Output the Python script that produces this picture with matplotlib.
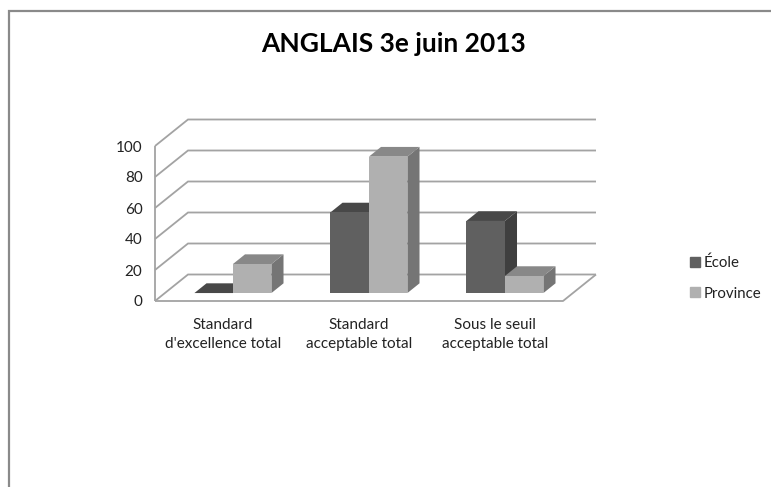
#!/usr/bin/env python3
"""Recreate the ANGLAIS 3e juin 2013 pseudo-3D bar chart."""

import matplotlib
matplotlib.use('Agg')
import matplotlib.pyplot as plt
from matplotlib.lines import Line2D
from matplotlib.patches import Patch

categories = ["Standard\nd'excellence total", "Standard\nacceptable total",
              "Sous le seuil\nacceptable total"]
ecole = [0, 52, 46.5]
province = [18.7, 88, 11]
y_ticks = [0, 20, 40, 60, 80, 100]

WIDTH, HEIGHT = 771, 487
GRID = '#a3a3a3'

plt.rcParams['font.family'] = ['Lato', 'DejaVu Sans']
plt.rcParams['lines.solid_capstyle'] = 'butt'

fig = plt.figure(figsize=(WIDTH / 100, HEIGHT / 100), dpi=100)
# axes = front plane of the chart box, in pixels of the picture
ax = fig.add_axes([155 / WIDTH, 1 - 301 / HEIGHT, 408 / WIDTH, 155 / HEIGHT])
ax.set_xlim(-0.5, 2.5)
ax.set_ylim(0, 100)
ax.patch.set_visible(False)
for spine in ax.spines.values():
    spine.set_visible(False)

# oblique depth of the box, in data units
depth_x = 33 / 136
depth_y = 26.5 / 1.55
bar_w = 38.5 / 136
bar_front = 0.3
bar_back = 0.667


def wall_line(v):
    ax.plot([-0.5, -0.5 + depth_x, 2.5 + depth_x], [v, v + depth_y, v + depth_y],
            color=GRID, lw=1.3, clip_on=False, zorder=1, solid_joinstyle='miter')


def bar3d(left, value, front, top, side):
    x0 = left + bar_front * depth_x
    x1 = x0 + bar_w
    y0 = bar_front * depth_y
    y1 = y0 + value
    dx = (bar_back - bar_front) * depth_x
    dy = (bar_back - bar_front) * depth_y
    ax.fill([x1, x1 + dx, x1 + dx, x1], [y0, y0 + dy, y1 + dy, y1],
            color=side, lw=0, clip_on=False, zorder=3)
    ax.fill([x0, x1, x1 + dx, x0 + dx], [y1, y1, y1 + dy, y1 + dy],
            color=top, lw=0, clip_on=False, zorder=3)
    ax.fill([x0, x1, x1, x0], [y0, y0, y1, y1],
            color=front, lw=0, clip_on=False, zorder=3)


for v in y_ticks:
    wall_line(v)
# floor and left edge
ax.plot([-0.5, -0.5], [100, 0], color=GRID, lw=1.3, clip_on=False, zorder=2)
ax.plot([-0.5, 2.5, 2.5 + depth_x], [0, 0, depth_y], color=GRID, lw=1.3,
        clip_on=False, zorder=2)

for i in range(len(categories)):
    bar3d(i - bar_w, ecole[i], '#606060', '#484848', '#3f3f3f')
    bar3d(i, province[i], '#b0b0b0', '#888888', '#757575')

ax.set_xticks(range(len(categories)))
ax.set_xticklabels(categories, fontsize=11, color='#222222', linespacing=1.5)
ax.set_yticks(y_ticks)
ax.tick_params(axis='y', length=0, pad=9, labelsize=11, labelcolor='#222222')
ax.tick_params(axis='x', length=0, pad=12)

fig.text(394 / WIDTH, 1 - 44 / HEIGHT, 'ANGLAIS 3e juin 2013', ha='center', va='center',
         fontsize=19, fontweight='bold', color='black')

handles = [Patch(color='#606060', label='École'), Patch(color='#b0b0b0', label='Province')]
fig.legend(handles=handles, loc='center left', bbox_to_anchor=(690 / WIDTH, 1 - 278 / HEIGHT),
           frameon=False, fontsize=10.8, handlelength=0.68, handleheight=0.68,
           handletextpad=0.25, labelspacing=1.1, borderpad=0, borderaxespad=0,
           labelcolor='#222222')

# frame of the chart area, only top and left show
fig.add_artist(Line2D([9 / WIDTH, 9 / WIDTH, 1], [0, 1 - 11 / HEIGHT, 1 - 11 / HEIGHT],
                      color='#8a8a8a', lw=1.6, solid_joinstyle='miter'))

fig.savefig('out.png', dpi=100)
